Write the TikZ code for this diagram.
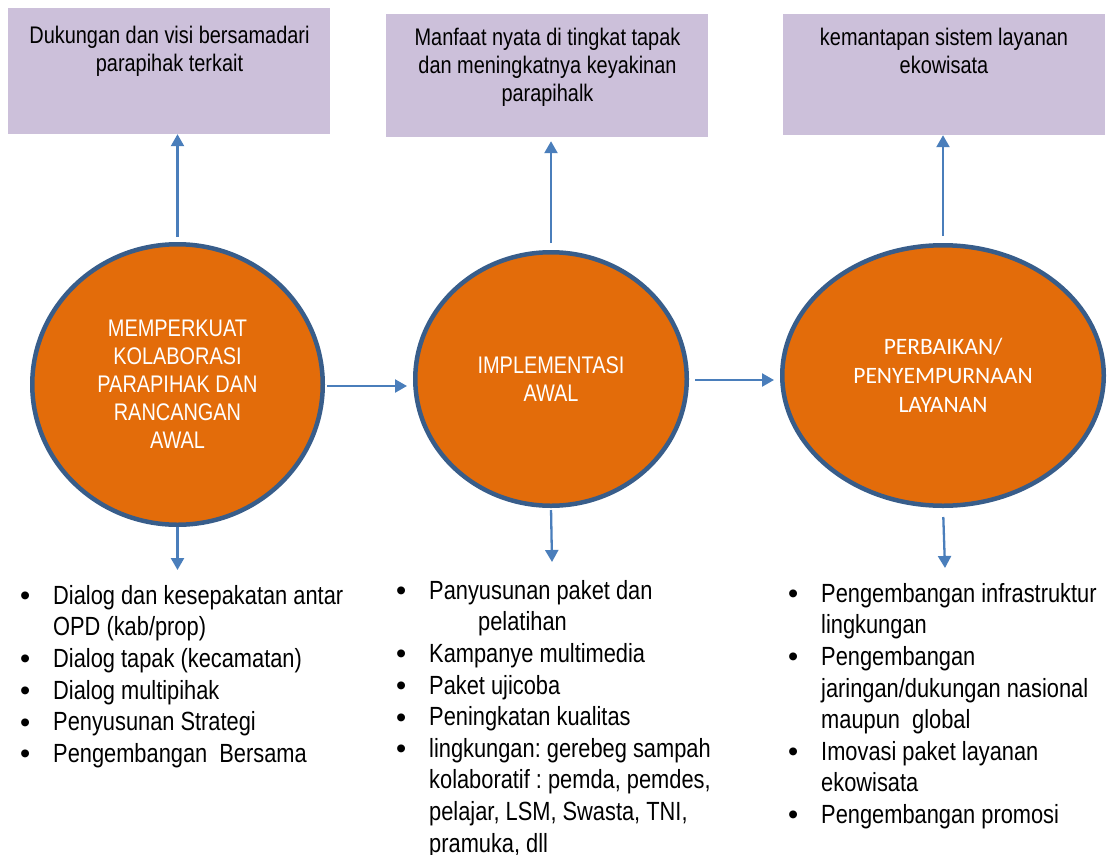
\documentclass[tikz,border=0pt]{standalone}
\usepackage{fontspec}
\setmainfont{Liberation Sans}[FakeStretch=0.83]
\newfontfamily\calib{Carlito}
\newfontfamily\bulfont{Liberation Sans}
\usetikzlibrary{shapes.geometric,arrows.meta}
\definecolor{lav}{HTML}{CCC0DA}
\definecolor{orng}{HTML}{E36C0A}
\definecolor{bord}{HTML}{385D8A}
\definecolor{arr}{HTML}{4A7EBB}
\newcommand{\bul}{\makebox[33pt][l]{\raisebox{-1.5pt}{\bulfont\fontsize{29}{31}\selectfont\textbullet}}}
\frenchspacing
\begin{document}
\begin{tikzpicture}[x=1pt,y=-1pt,
  boxnode/.style={fill=lav, draw=none, minimum width=322pt, inner sep=0pt},
  boxtext/.style={align=center, inner sep=0pt, anchor=north, font=\fontsize{24}{28}\selectfont},
  stage/.style={ellipse, draw=bord, line width=4.5pt, fill=orng, inner sep=0pt, text=white, align=center, font=\fontsize{24}{28}\selectfont},
  flow/.style={draw=arr, line width=2.3pt, -{Triangle[width=13pt,length=12pt]}},
  listtext/.style={align=left, inner sep=0pt, anchor=north west, font=\fontsize{26.3}{31.6}\selectfont}
]
\useasboundingbox (0,0) rectangle (1107,854);

% top boxes
\node[boxnode, minimum height=126pt] (b1) at (169,71) {};
\node[boxnode, minimum height=123pt] (b2) at (547,75.5) {};
\node[boxnode, minimum height=121pt] (b3) at (944,74.5) {};
\node[boxtext] (t1) at (169.5,25.5) {Dukungan dan visi bersamadari\\parapihak terkait};
\node[boxtext] (t2) at (547.5,27.5) {Manfaat nyata di tingkat tapak\\dan meningkatnya keyakinan\\parapihalk};
\node[boxtext] (t3) at (944,27.5) {kemantapan sistem layanan\\ekowisata};

% stages
\node[stage, minimum width=290.5pt, minimum height=280.5pt] (c1) at (177.5,384.5)
  {MEMPERKUAT\\KOLABORASI\\PARAPIHAK DAN\\RANCANGAN\\AWAL};
\node[stage, minimum width=271.5pt, minimum height=253.5pt] (c2) at (551,379)
  {IMPLEMENTASI\\AWAL};
\node[stage, minimum width=321.5pt, minimum height=260.5pt, font=\calib\fontsize{23.5}{29}\selectfont] (c3) at (943,375.5)
  {PERBAIKAN/\\PENYEMPURNAAN\\LAYANAN};

% free ends of downward arrows
\coordinate (d1) at (176,570);
\coordinate (d2) at (552,562);
\coordinate (d3) at (945,568);

% arrows up
\draw[flow] ([yshift=5pt]c1.north) -- (c1.north |- b1.south);
\draw[flow, shorten >=4pt] ([yshift=7pt]c2.north) -- (c2.north |- b2.south);
\draw[flow] ([yshift=7pt]c3.north) -- (c3.north |- b3.south);

% arrows right
\draw[flow, shorten <=2pt, shorten >=6pt] ([yshift=-1.5pt]c1.east) -- ([yshift=-1.5pt]c1.east -| c2.west);
\draw[flow, shorten <=6pt, shorten >=6pt] ([yshift=-1pt]c2.east) -- ([yshift=-1pt]c2.east -| c3.west);

% arrows down
\draw[flow] (c1.south) -- (c1.south |- d1);
\draw[flow, shorten <=2pt] (c2.south) -- (d2);
\draw[flow, shorten <=9pt] (c3.south) -- (d3);

% lists
\node[listtext] (l1) at (20,585) {\bul Dialog dan kesepakatan antar\\
  \hspace*{33pt}OPD (kab/prop)\\
  \bul Dialog tapak (kecamatan)\\
  \bul Dialog multipihak\\
  \bul Penyusunan Strategi\\
  \bul Pengembangan\ \ Bersama};
\node[listtext] (l2) at (396,580) {\bul Panyusunan paket dan\\
  \hspace*{82pt}pelatihan\\
  \bul Kampanye multimedia\\
  \bul Paket ujicoba\\
  \bul Peningkatan kualitas\\
  \bul lingkungan: gerebeg sampah\\
  \hspace*{33pt}kolaboratif : pemda, pemdes,\\
  \hspace*{33pt}pelajar, LSM, Swasta, TNI,\\
  \hspace*{33pt}pramuka, dll};
\node[listtext] (l3) at (788,583) {\bul Pengembangan infrastruktur\\
  \hspace*{33pt}lingkungan\\
  \bul Pengembangan\\
  \hspace*{33pt}jaringan/dukungan nasional\\
  \hspace*{33pt}maupun\ \ global\\
  \bul Imovasi paket layanan\\
  \hspace*{33pt}ekowisata\\
  \bul Pengembangan promosi};
\end{tikzpicture}
\end{document}
